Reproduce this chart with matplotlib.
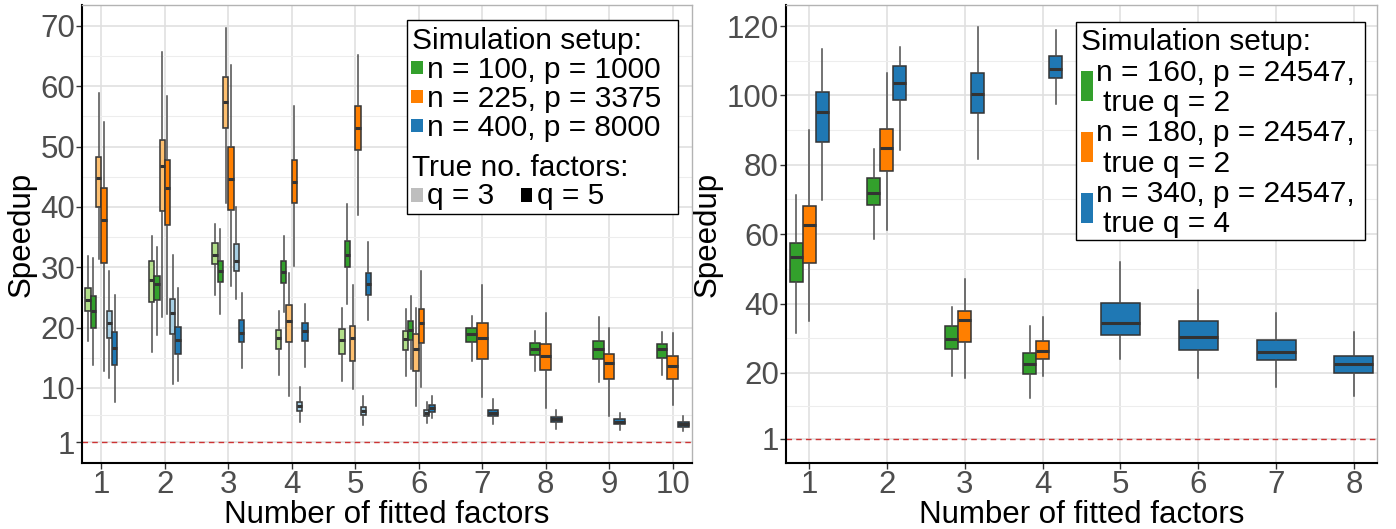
import matplotlib.pyplot as plt
from matplotlib.patches import Rectangle

plt.rcParams['font.family'] = ['Liberation Sans', 'DejaVu Sans']

# box stats per fitted factor: (whisker low, q1, median, q3, whisker high)
left_factors = [1, 2, 3, 4, 5, 6, 7, 8, 9, 10]
green_q3 = [(17.8, 22.7, 24.6, 26.5, 31.8), (15.9, 24.3, 27.9, 31.1, 35.1), (25.4, 30.5, 32.1, 34.0, 37.2),
            (12.1, 16.5, 18.2, 19.6, 22.7), (11.1, 15.6, 18.0, 19.7, 23.2), (11.9, 16.3, 18.1, 19.4, 23.1),
            None, None, None, None]
green_q5 = [(13.8, 20.0, 22.8, 25.2, 31.6), (18.8, 24.6, 27.2, 28.6, 33.4), (22.2, 27.5, 29.3, 31.1, 36.4),
            (22.6, 27.4, 29.2, 31.1, 35.1), (23.9, 30.1, 32.0, 34.4, 40.5), (13.1, 17.9, 19.6, 21.1, 25.2),
            (14.4, 17.6, 19.0, 19.9, 21.9), (12.8, 15.4, 16.5, 17.5, 19.5), (11.0, 14.8, 16.4, 17.7, 21.8),
            (12.2, 15.0, 16.4, 17.2, 19.2)]
orange_q3 = [(31.4, 39.9, 44.7, 48.2, 58.9), (21.8, 39.3, 46.8, 51.0, 65.6), (40.7, 53.1, 57.3, 61.5, 69.6),
             (8.6, 17.6, 21.0, 23.8, 29.1), (9.8, 14.4, 18.3, 20.3, 27.0), (7.0, 12.8, 16.4, 18.9, 23.3),
             None, None, None, None]
orange_q5 = [(12.8, 30.7, 37.9, 43.2, 54.0), (22.2, 37.0, 43.2, 47.7, 58.4), (26.8, 39.5, 44.6, 49.9, 63.5),
             (30.2, 40.6, 44.2, 47.7, 56.7), (38.6, 49.4, 53.1, 56.7, 65.1), (10.2, 17.5, 20.8, 23.0, 29.4),
             (8.5, 14.8, 18.2, 20.8, 27.0), (6.7, 12.9, 15.2, 17.2, 22.4), (5.4, 11.4, 14.2, 15.6, 20.0),
             (7.2, 11.5, 13.7, 15.3, 19.1)]
blue_q3 = [(11.7, 18.2, 20.7, 22.8, 29.4), (10.6, 18.9, 22.4, 24.7, 32.0), (24.8, 29.4, 31.1, 33.9, 39.9),
           (4.3, 6.1, 7.0, 7.7, 10.2), (3.8, 5.5, 6.2, 6.8, 8.6), (4.2, 5.3, 5.9, 6.3, 7.7),
           None, None, None, None]
blue_q5 = [(7.6, 13.8, 16.6, 19.2, 25.4), (11.1, 15.6, 18.0, 20.1, 26.5), (13.3, 17.6, 19.1, 21.2, 25.8),
           (13.5, 17.8, 19.4, 20.7, 23.9), (21.3, 25.4, 27.2, 29.1, 34.2), (5.0, 6.0, 6.7, 7.2, 8.7),
           (4.0, 5.3, 5.9, 6.4, 8.1), (3.2, 4.4, 4.8, 5.2, 6.4), (3.1, 4.0, 4.4, 4.8, 5.9),
           (2.8, 3.5, 4.0, 4.4, 5.4)]

right_factors = [1, 2, 3, 4, 5, 6, 7, 8]
r_green = [(31.6, 46.1, 53.4, 57.4, 71.3), (58.7, 68.4, 71.9, 76.1, 84.7), (19.1, 26.8, 29.8, 33.4, 39.0),
           (12.8, 19.8, 22.7, 25.6, 33.6), None, None, None, None]
r_orange = [(35.1, 51.6, 62.6, 68.2, 90.0), (61.1, 78.1, 84.9, 90.2, 106.6), (18.6, 29.0, 35.2, 37.8, 47.2),
            (19.2, 24.1, 26.4, 29.1, 36.2), None, None, None, None]
r_blue = [(69.8, 86.7, 95.2, 101.0, 113.3), (84.3, 98.8, 103.6, 108.6, 114.0), (81.6, 94.9, 100.5, 106.4, 119.6),
          (97.4, 104.9, 107.7, 111.4, 118.8), (24.0, 31.0, 34.4, 40.2, 52.0), (18.6, 26.6, 30.4, 35.0, 43.8),
          (15.9, 23.7, 26.1, 29.4, 37.3), (13.4, 20.1, 22.7, 25.0, 31.9)]

left_ticks = [1, 10, 20, 30, 40, 50, 60, 70]
left_minor = [5.5, 15, 25, 35, 45, 55, 65]
right_ticks = [1, 20, 40, 60, 80, 100, 120]
right_minor = [10.5, 30, 50, 70, 90, 110]

GREEN, ORANGE, BLUE = '#33a02c', '#ff7f00', '#1f78b4'
LGREEN, LORANGE, LBLUE = '#b2df8a', '#fdbf6f', '#a6cee3'

W, H = 1396, 529
fig = plt.figure(figsize=(W / 100, H / 100), dpi=100)
ax1 = fig.add_axes([82.3 / W, 1 - 462.7 / H, 609.4 / W, 457.4 / H])
ax2 = fig.add_axes([785.7 / W, 1 - 462.7 / H, 591.6 / W, 457.4 / H])


def draw_panel(ax, factors, series, colors):
    for i, x in enumerate(factors):
        present = [(s[i], c) for s, c in zip(series, colors) if s[i] is not None]
        w = 0.5 / len(present)
        for j, (st, c) in enumerate(present):
            lo, q1, med, q3, hi = st
            stats = [dict(whislo=lo, q1=q1, med=med, q3=q3, whishi=hi, fliers=[])]
            ax.bxp(stats, positions=[x - 0.25 + (j + 0.5) * w], widths=w, patch_artist=True,
                   showcaps=False, showfliers=False, manage_ticks=False,
                   boxprops=dict(facecolor=c, edgecolor='#333333', linewidth=1.1),
                   medianprops=dict(color='#333333', linewidth=2.2),
                   whiskerprops=dict(color='#4d4d4d', linewidth=1.1))


def style_axes(ax, factors, ticks, minor, ylim):
    ax.set_xlim(0.7, len(factors) + 0.3)
    ax.set_ylim(*ylim)
    ax.set_xticks(factors)
    ax.set_yticks(ticks)
    ax.set_yticks(minor, minor=True)
    ax.set_axisbelow(True)
    ax.grid(True, which='major', color='#e0e0e0', linewidth=1.2)
    ax.grid(True, which='minor', axis='y', color='#ededed', linewidth=0.8)
    ax.tick_params(which='major', labelsize=22.5, labelcolor='#4d4d4d', color='#333333',
                   length=4, width=1, pad=1)
    ax.tick_params(which='minor', length=0)
    for s in ['left', 'bottom']:
        ax.spines[s].set_color('black')
        ax.spines[s].set_linewidth(1.5)
    for s in ['top', 'right']:
        ax.spines[s].set_color('#b3b3b3')
        ax.spines[s].set_linewidth(1)
    ax.axhline(1, color='#cd3333', linestyle=(0, (4, 3)), linewidth=1)
    ax.set_xlabel('Number of fitted factors', fontsize=22.5, labelpad=0)
    ax.set_ylabel('Speedup', fontsize=22.5, labelpad=3)


draw_panel(ax1, left_factors, [green_q3, green_q5, orange_q3, orange_q5, blue_q3, blue_q5],
           [LGREEN, GREEN, LORANGE, ORANGE, LBLUE, BLUE])
style_axes(ax1, left_factors, left_ticks, left_minor, (-2.4, 73.4))

draw_panel(ax2, right_factors, [r_green, r_orange, r_blue], [GREEN, ORANGE, BLUE])
style_axes(ax2, right_factors, right_ticks, right_minor, (-5.9, 126))


# legends drawn in figure pixel coordinates
def P(px, py):
    return px / W, 1 - py / H


def box(x0, y0, x1, y1, fc, ec='none', lw=0):
    fx0, fy1 = P(x0, y1)
    fx1, fy0 = P(x1, y0)
    fig.patches.append(Rectangle((fx0, fy1), fx1 - fx0, fy0 - fy1, transform=fig.transFigure,
                                 facecolor=fc, edgecolor=ec, linewidth=lw, zorder=5))


def txt(px, py, s):
    fig.text(*P(px, py), s, fontsize=21.5, va='baseline', ha='left', zorder=6)


box(406.7, 20, 678.3, 214.3, 'white', 'black', 1)
txt(411.7, 49.3, 'Simulation setup:')
for (y0, y1, yb), c, lab in zip([(61, 74, 77.7), (90, 103.3, 106.7), (119.3, 132.3, 136)],
                                [GREEN, ORANGE, BLUE],
                                ['n = 100, p = 1000', 'n = 225, p = 3375', 'n = 400, p = 8000']):
    box(411, y0, 422.7, y1, c)
    txt(427.3, yb, lab)
txt(411.7, 175.7, 'True no. factors:')
box(411, 188.3, 422.7, 201.7, '#bebebe')
txt(427.3, 204.3, 'q = 3')
box(520.7, 188.3, 532, 201.7, 'black')
txt(536.7, 204.3, 'q = 5')

box(1076, 22.3, 1365, 240, 'white', 'black', 1)
txt(1081, 50, 'Simulation setup:')
for (y0, y1, b1, b2), c, lab, q in zip([(71, 100.7, 80.7, 111), (132, 161.7, 140.7, 172.3),
                                        (193, 222.7, 201.7, 231.7)],
                                       [GREEN, ORANGE, BLUE],
                                       ['n = 160, p = 24547,', 'n = 180, p = 24547,', 'n = 340, p = 24547,'],
                                       ['true q = 2', 'true q = 2', 'true q = 4']):
    box(1081, y0, 1092.7, y1, c)
    txt(1096, b1, lab)
    txt(1103.3, b2, q)

fig.savefig('out.png', dpi=100)
